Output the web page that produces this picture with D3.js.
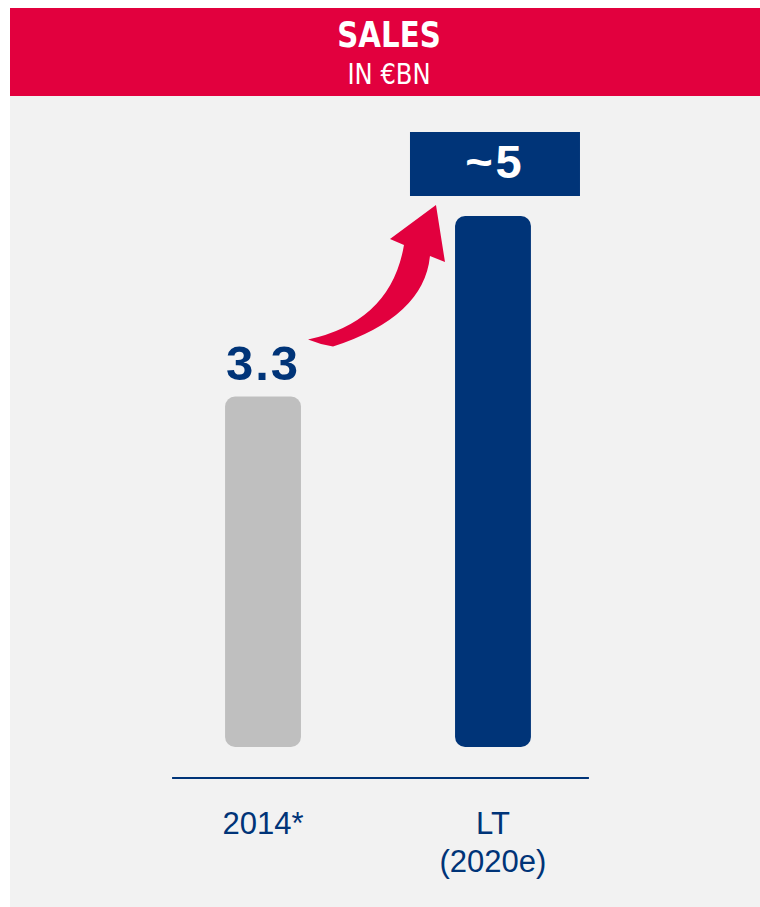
<!DOCTYPE html>
<html>
<head>
<meta charset="utf-8">
<script src="https://cdn.jsdelivr.net/npm/d3@7"></script>
<style>
  html, body { margin: 0; padding: 0; background: #ffffff; }
  svg { display: block; }
</style>
</head>
<body>
<svg id="chart" width="760" height="907"></svg>
<script>
// ---- data ----
const categories = ["2014*", "LT (2020e)"];
const categoryLines = [["2014*"], ["LT", "(2020e)"]];
const values = [3.3, 5];
const valueLabels = ["3.3", "~5"];
const titleText = "SALES";
const subtitleText = "IN €BN";

// ---- styles ----
const RED = "#e2003e";
const BLUE = "#003478";
const GREY_BAR = "#bfbfbf";
const PANEL = "#f2f2f2";
const labelFont = "'Liberation Sans', Arial, sans-serif";
const headFont = "'Liberation Sans Narrow', 'Arial Narrow', 'DejaVu Sans Condensed', sans-serif";

const svg = d3.select("#chart");

// panel + header
svg.append("rect").attr("x", 10).attr("y", 96).attr("width", 750).attr("height", 811).attr("fill", PANEL);
svg.append("rect").attr("x", 10).attr("y", 8).attr("width", 750).attr("height", 88).attr("fill", RED);
svg.append("text").attr("x", 389).attr("y", 47).attr("text-anchor", "middle")
  .attr("font-family", headFont).attr("font-weight", "bold").attr("font-size", 35)
  .attr("transform", "translate(389,0) scale(0.93,1) translate(-389,0)")
  .attr("fill", "#fff").text(titleText);
svg.append("text").attr("x", 389).attr("y", 84).attr("text-anchor", "middle")
  .attr("font-family", headFont).attr("font-size", 29)
  .attr("transform", "translate(389,0) scale(0.93,1) translate(-389,0)")
  .attr("fill", "#fff").text(subtitleText);

// scales
const x = d3.scaleBand().domain(categories).range([71, 685]).paddingInner(0.67).paddingOuter(0.67);
const y = d3.scaleLinear().domain([0, 5]).range([747, 216]);
const bw = x.bandwidth();
const cx = c => x(c) + bw / 2;

// bars
svg.selectAll("rect.bar").data(categories).join("rect")
  .attr("class", "bar")
  .attr("x", d => x(d))
  .attr("y", (d, i) => y(values[i]))
  .attr("width", bw)
  .attr("height", (d, i) => y(0) - y(values[i]))
  .attr("rx", 10).attr("ry", 10)
  .attr("fill", (d, i) => i === 0 ? GREY_BAR : BLUE);

// baseline axis line
const axisY = y(0) + 31;
svg.append("line")
  .attr("x1", x(categories[0]) - 53).attr("x2", x(categories[1]) + bw + 58)
  .attr("y1", axisY).attr("y2", axisY)
  .attr("stroke", BLUE).attr("stroke-width", 2);

// category labels
categoryLines.forEach((lines, i) => {
  const t = svg.append("text").attr("text-anchor", "middle")
    .attr("font-family", labelFont).attr("font-size", 31).attr("fill", BLUE);
  lines.forEach((ln, j) => {
    t.append("tspan").attr("x", cx(categories[i])).attr("y", axisY + 56 + j * 38).text(ln);
  });
});

// value label for first bar
svg.append("text")
  .attr("x", cx(categories[0]))
  .attr("y", y(values[0]) - 17)
  .attr("text-anchor", "middle")
  .attr("font-family", labelFont).attr("font-weight", "bold").attr("font-size", 49)
  .attr("letter-spacing", 2)
  .attr("fill", BLUE).text(valueLabels[0]);

// value box for second bar
const boxCx = cx(categories[1]) + 2;
const boxTop = y(values[1]) - 84;
svg.append("rect")
  .attr("x", boxCx - 85).attr("y", boxTop).attr("width", 170).attr("height", 64)
  .attr("fill", BLUE);
svg.append("text")
  .attr("x", boxCx).attr("y", boxTop + 46)
  .attr("text-anchor", "middle")
  .attr("font-family", labelFont).attr("font-weight", "bold").attr("font-size", 47)
  .attr("letter-spacing", 3)
  .attr("fill", "#fff").text(valueLabels[1]);

// curved arrow from first label to the box
const tx = cx(categories[0]) + 45, ty = y(values[0]) - 57;     // tail
const hx = cx(categories[1]) - 57, hy = y(values[1]) - 11;     // head tip
const P = (dx, dy) => [hx + dx, hy + dy];
const T = (dx, dy) => [tx + dx, ty + dy];
const path = d3.path();
let p = T(0, 0); path.moveTo(p[0], p[1]);
let c = T(83, -18), e = P(-32, 40); path.quadraticCurveTo(c[0], c[1], e[0], e[1]);
e = P(-46, 34); path.lineTo(e[0], e[1]);
e = P(0, 0); path.lineTo(e[0], e[1]);
e = P(9, 57); path.lineTo(e[0], e[1]);
e = P(-6, 51); path.lineTo(e[0], e[1]);
c = P(-12, 112); e = T(25, 7); path.quadraticCurveTo(c[0], c[1], e[0], e[1]);
c = T(12, 5); e = T(0, 0); path.quadraticCurveTo(c[0], c[1], e[0], e[1]);
path.closePath();
svg.append("path").attr("d", path.toString()).attr("fill", RED);
</script>
</body>
</html>
